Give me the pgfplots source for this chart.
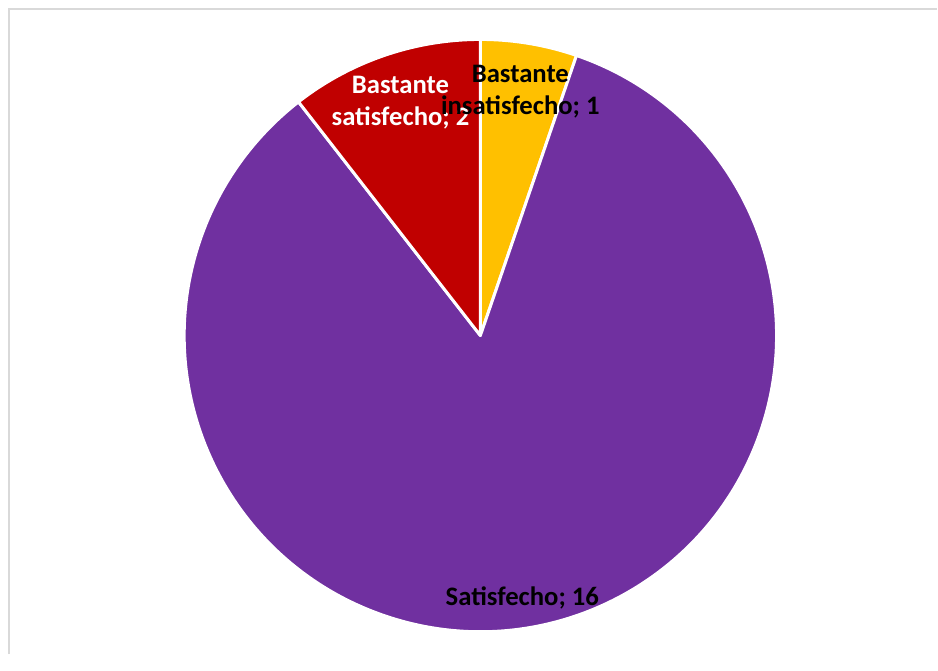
\documentclass[border=0pt]{standalone}
\usepackage{pgfplots}
\pgfplotsset{compat=1.18}
\usepackage{pgfplotstable}
\usepackage{fontspec}
\setmainfont{Carlito}
\definecolor{cYel}{HTML}{FFC000}
\definecolor{cPur}{HTML}{7030A0}
\definecolor{cRed}{HTML}{C00000}
\definecolor{cFrame}{HTML}{D9D9D9}
\pgfplotstableread[col sep=comma]{
label,value
Bastante insatisfecho,1
Satisfecho,16
Bastante satisfecho,2
}\piedata
\begin{document}
\begin{tikzpicture}
\pgfplotstablegetelem{0}{value}\of\piedata \let\vA\pgfplotsretval
\pgfplotstablegetelem{1}{value}\of\piedata \let\vB\pgfplotsretval
\pgfplotstablegetelem{2}{value}\of\piedata \let\vC\pgfplotsretval
\pgfmathsetmacro\tot{\vA+\vB+\vC}
\pgfmathsetmacro\aA{90-360*\vA/\tot}
\pgfmathsetmacro\aB{\aA-360*\vB/\tot}
\pgfmathsetmacro\aC{\aB-360*\vC/\tot}
\def\R{2.965cm}
\begin{axis}[
  width=9.38cm, height=6.55cm, scale only axis,
  xmin=0, xmax=938, ymin=0, ymax=655,
  hide axis, clip=false,
]
\path[draw=none] (axis cs:0,0) rectangle (axis cs:938,655);
\draw[cFrame, line width=0.7pt] (axis cs:9,0) -- (axis cs:9,646) -- (axis cs:938,646);
\filldraw[fill=cYel, draw=white, line width=0.85pt, line join=round]
  (axis cs:481,319) -- ++(90:\R) arc[start angle=90, end angle=\aA, radius=\R] -- cycle;
\filldraw[fill=cPur, draw=white, line width=0.85pt, line join=round]
  (axis cs:481,319) -- ++(\aA:\R) arc[start angle=\aA, end angle=\aB, radius=\R] -- cycle;
\filldraw[fill=cRed, draw=white, line width=0.85pt, line join=round]
  (axis cs:481,319) -- ++(\aB:\R) arc[start angle=\aB, end angle=\aC, radius=\R] -- cycle;
\node[font=\fontsize{7.6pt}{9.1pt}\selectfont\bfseries, align=center, text=white]
  at (axis cs:401,552) {Bastante\\satisfecho; 2};
\node[font=\fontsize{7.6pt}{9.1pt}\selectfont\bfseries, align=center, text=black]
  at (axis cs:521,563) {Bastante\\insatisfecho; 1};
\node[font=\fontsize{7.6pt}{9.1pt}\selectfont\bfseries, text=black, anchor=base]
  at (axis cs:523,49) {Satisfecho; 16};
\end{axis}
\end{tikzpicture}
\end{document}
